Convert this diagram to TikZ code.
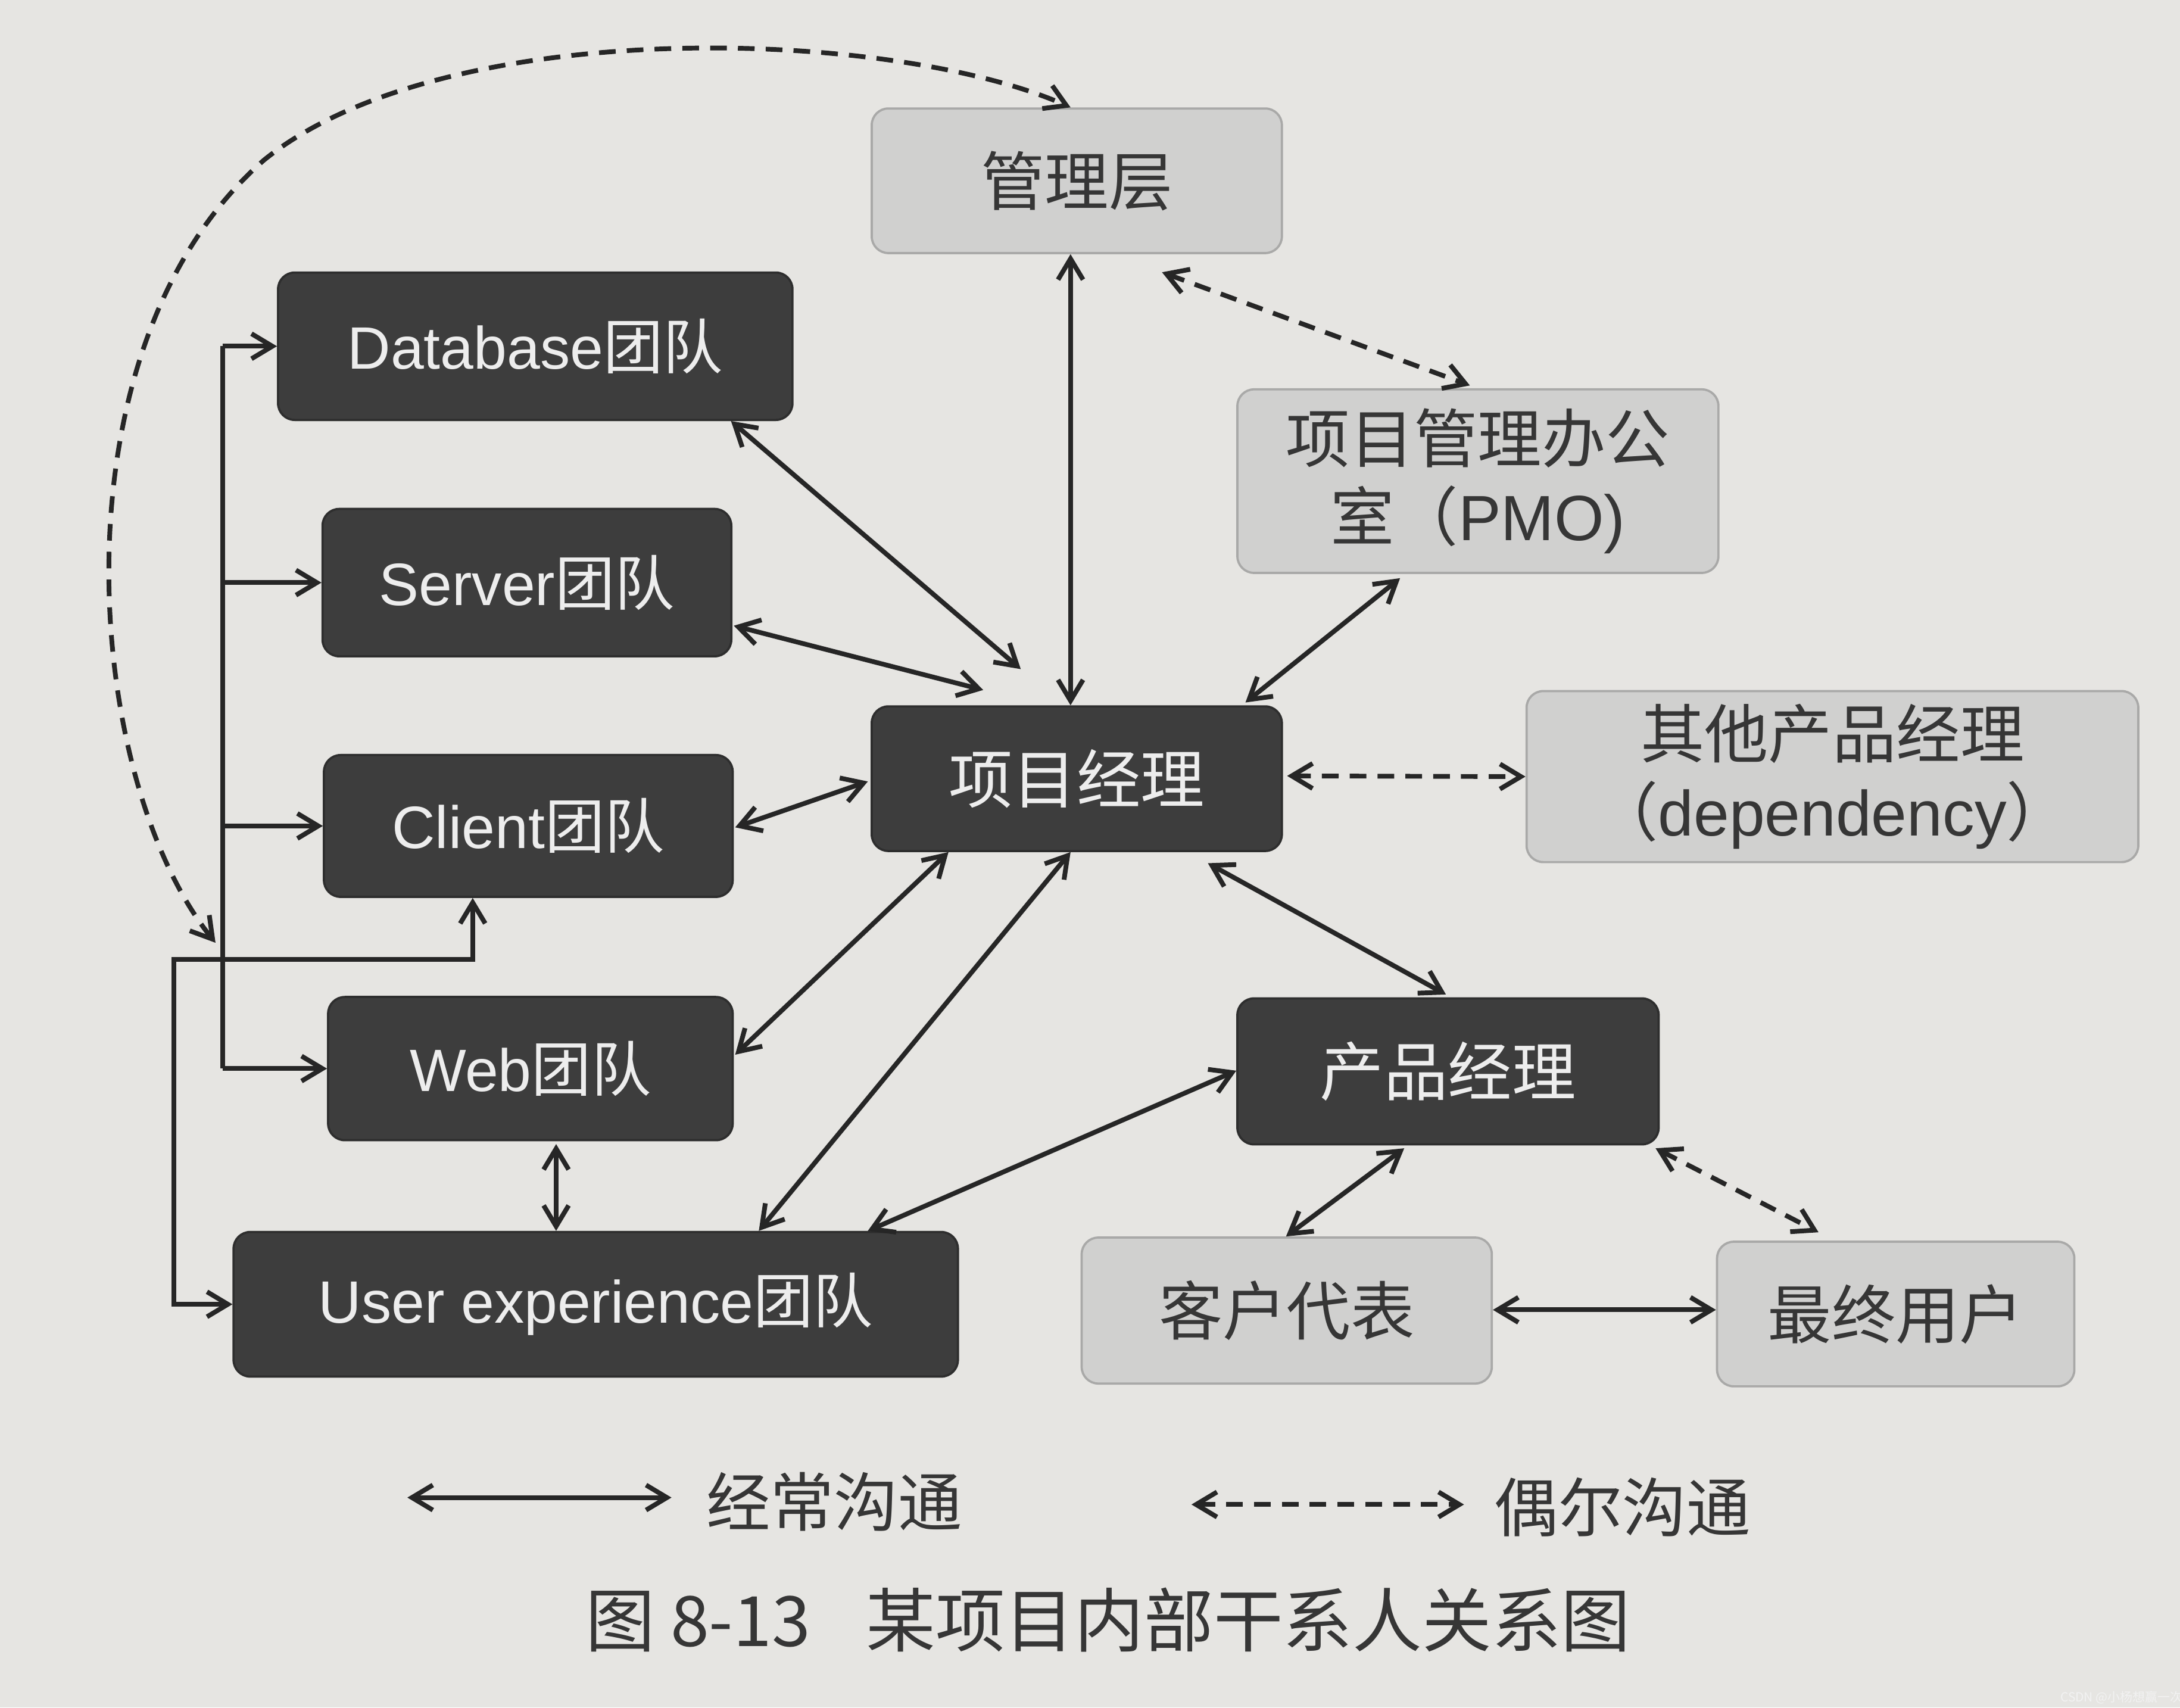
\documentclass[tikz,border=0pt]{standalone}
\usepackage{fontspec}
\setmainfont{Liberation Sans}
\newfontfamily\cjk{Noto Sans CJK SC}
\usetikzlibrary{arrows.meta,calc}
\definecolor{paper}{HTML}{E6E5E2}
\definecolor{darkfill}{HTML}{3D3D3D}
\definecolor{darkedge}{HTML}{2E2E2E}
\definecolor{darktext}{HTML}{EDEDED}
\definecolor{lightfill}{HTML}{D0D0CF}
\definecolor{lightedge}{HTML}{A9A9A8}
\definecolor{lighttext}{HTML}{363636}
\definecolor{ink}{HTML}{262626}
\begin{document}
\begin{tikzpicture}[x=0.5pt,y=-0.5pt,
  box/.style={rectangle, rounded corners=6pt, inner sep=0pt, align=center, line width=0.8pt},
  dark/.style={box, fill=darkfill, draw=darkedge, text=darktext, font=\fontsize{21.5}{25}\selectfont},
  darkcjk/.style={dark, font=\cjk\fontsize{23}{28}\selectfont},
  light/.style={box, fill=lightfill, draw=lightedge, text=lighttext, font=\cjk\fontsize{23}{28}\selectfont},
  sz/.style 2 args={minimum width=#1*0.5pt, minimum height=#2*0.5pt},
  tip/.tip={Straight Barb[length=7.5pt,width=9pt]},
  link/.style={draw=ink, line width=1.7pt, tip-tip},
  dlink/.style={link, dash pattern=on 6pt off 4pt},
  wire/.style={draw=ink, line width=1.7pt},
  arr/.style={wire, -tip},
  legendtext/.style={font=\cjk\fontsize{23}{28}\selectfont, text=lighttext, inner sep=0pt},
]
\useasboundingbox[fill=paper] (0,0) rectangle (1568,1228);

% nodes
\node[light, sz={295}{104}] (mgmt) at (774.5,130) {管理层};
\node[dark, sz={370}{106}] (db) at (385,249) {Database{\cjk 团队}};
\node[dark, sz={294}{106}] (server) at (379,419) {Server{\cjk 团队}};
\node[dark, sz={294}{102}] (client) at (380,594) {Client{\cjk 团队}};
\node[dark, sz={291}{103}] (web) at (381.5,768.5) {Web{\cjk 团队}};
\node[dark, sz={521}{104}] (ux) at (428.5,938) {User experience{\cjk 团队}};
\node[darkcjk, sz={295}{104}] (pm) at (774.5,560) {项目经理};
\node[light, sz={346}{132}] (pmo) at (1063,346) {项目管理办公\\室（{\rmfamily PMO)}};
\node[light, sz={440}{123}] (other) at (1318,558.5) {其他产品经理\\（{\rmfamily dependency}）};
\node[darkcjk, sz={303}{105}] (prod) at (1041.5,770.5) {产品经理};
\node[light, sz={295}{105}] (cust) at (925.5,942.5) {客户代表};
\node[light, sz={257}{104}] (enduser) at (1363.5,945) {最终用户};

% connectors to project manager
\draw[link] ($(db.south east)+(-45,0)$) -- ($(pm.north west)+(108,-26)$);
\draw[link] ($(server.east)+(1,31)$) -- ($(pm.north west)+(81,-11)$);
\draw[link] ($(client.east)+(1,1)$) -- ($(pm.west)+(-2,2)$);
\draw[link] ($(web.east)+(1,-10)$) -- ($(pm.south west)+(56,0)$);
\draw[link] ($(ux.north east)+(-144,0)$) -- ($(pm.south)+(-4.5,0)$);
\draw[link] ($(mgmt.south)+(-4.5,0)$) -- ($(pm.north)+(-4.5,0)$);
\draw[link] ($(pmo.south)+(-56,3)$) -- ($(pm.north east)+(-27,-2)$);
\draw[dlink] ($(pm.east)+(3,-2)$) -- (other.west);
\draw[link] ($(pm.south east)+(-54,8)$) -- ($(prod.north)+(-1.5,-2)$);
\draw[dlink] ($(mgmt.south east)+(-87,13)$) -- ($(pmo.north west)+(168,-2)$);

% product manager links
\draw[link] ($(prod.west)+(0,-0.5)$) -- ($(ux.north west)+(457,0)$);
\draw[link] ($(prod.south)+(-31.5,2)$) -- ($(cust.north)+(-0.5,0)$);
\draw[dlink] ($(prod.south east)+(-3,2)$) -- ($(enduser.north)+(-55.5,-6)$);
\draw[link] ($(cust.east)+(0,-0.5)$) -- ($(enduser.west)+(0,-3)$);

% web <-> ux
\draw[link] ($(web.south)+(18.5,2)$) -- ($(ux.north)+(-28.5,0)$);

% left bus
\coordinate (bustop) at (160,249);
\coordinate (busbot) at (160,768.5);
\draw[wire] (bustop) -- (busbot);
\draw[arr] (bustop) -- (db.west);
\draw[arr] (bustop |- server.west) -- (server.west);
\draw[arr] (bustop |- client.west) -- (client.west);
\draw[arr] (busbot) -- (web.west);

% ux <-> client loop
\coordinate (loopc) at (125,690);
\draw[link] ($(client.south)+(-40,0)$) |- (loopc) |- (ux.west);

% dashed curve teams <-> management
\coordinate (dashend) at (155,678);
\draw[dlink] (dashend) .. controls (60,560) and (35,250) .. (190,115)
  .. controls (320,10) and (640,20) .. ($(mgmt.north)+(-4.5,0)$);

% legend
\coordinate (l1a) at (293,1077);
\coordinate (l1b) at (483,1077);
\draw[link] (l1a) -- (l1b);
\node[legendtext] (l1t) at (600,1080) {经常沟通};
\coordinate (l2a) at (857,1082);
\coordinate (l2b) at (1053,1082);
\draw[dlink] (l2a) -- (l2b);
\node[legendtext] (l2t) at (1167,1084) {偶尔沟通};

% caption
\node[font=\cjk\fontsize{25}{30}\selectfont, text=lighttext, inner sep=0pt] (cap) at (797,1165) {图 8-13\hspace{0.8em}某项目内部干系人关系图};

% watermark
\node[font=\cjk\fontsize{4.5}{5}\selectfont, text=white!90!gray, inner sep=0pt] (wm) at (1526,1221) {CSDN @小杨想赢一次};
\end{tikzpicture}
\end{document}
